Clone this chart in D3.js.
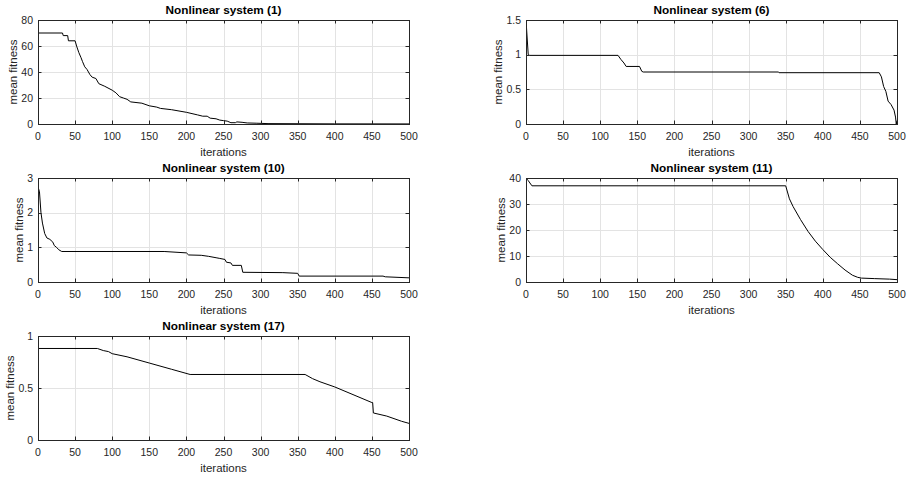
<!DOCTYPE html>
<html>
<head>
<meta charset="utf-8">
<script src="https://cdnjs.cloudflare.com/ajax/libs/d3/7.8.5/d3.min.js"></script>
<style>
  body { margin: 0; background: #fff; }
  svg { display: block; font-family: "Liberation Sans", Arial, sans-serif; }
</style>
</head>
<body>
<svg id="fig" width="908" height="477"></svg>
<script>
// iteration / mean-fitness pairs
const sys1 = [[0,70],[33,70],[34,68],[40,68],[41,64],[50,64],[52,60],[55,55],[58,51],[60,48],[63,44],[66,42],[70,38],[73,36],[78,35],[82,31],[90,29],[100,26],[105,24],[110,21],[115,20],[120,19],[125,17],[140,16],[150,14],[160,13],[165,12],[180,11],[200,9],[215,7],[222,6],[228,6],[232,4.5],[240,4],[245,3],[250,2.6],[255,2.2],[260,1],[266,1],[268,1.6],[275,1.3],[282,0.8],[295,0.6],[310,0.3],[400,0.1],[500,0.05]];
const sys6 = [[0,1.5],[3,1.0],[5,0.99],[124,0.99],[128,0.93],[132,0.88],[135,0.83],[153,0.83],[156,0.76],[158,0.75],[340,0.75],[341,0.74],[476,0.74],[479,0.68],[482,0.54],[485,0.47],[488,0.33],[492,0.28],[496,0.2],[498,0.1],[499,0.0],[500,0.05]];
const sys10 = [[0,2.75],[2,2.6],[4,2.0],[6,1.7],[9,1.4],[12,1.27],[16,1.23],[20,1.15],[22,1.05],[25,1.0],[28,0.93],[32,0.88],[170,0.88],[200,0.84],[203,0.78],[220,0.77],[230,0.74],[240,0.7],[245,0.68],[252,0.65],[254,0.57],[260,0.55],[262,0.48],[274,0.48],[276,0.28],[330,0.27],[350,0.25],[352,0.17],[465,0.17],[468,0.15],[500,0.12]];
const sys11 = [[0,40],[3,39],[8,37],[350,37],[352,35],[355,32],[360,29],[370,24],[380,19.5],[390,15.7],[400,12.5],[410,9.5],[420,7],[430,4.6],[440,2.6],[447,1.8],[452,1.5],[470,1.3],[490,1.1],[500,0.9]];
const sys17 = [[0,0.88],[80,0.88],[88,0.86],[95,0.85],[100,0.83],[120,0.8],[150,0.74],[180,0.68],[205,0.63],[360,0.63],[370,0.59],[380,0.56],[400,0.51],[450,0.36],[451,0.36],[452,0.26],[470,0.23],[490,0.18],[500,0.16]];

const titles = ["Nonlinear system (1)", "Nonlinear system (6)", "Nonlinear system (10)", "Nonlinear system (11)", "Nonlinear system (17)"];
const xTicks = [0,50,100,150,200,250,300,350,400,450,500];
const yTicks1 = [0,20,40,60,80];
const yTicks6 = [0,0.5,1,1.5];
const yTicks10 = [0,1,2,3];
const yTicks11 = [0,10,20,30,40];
const yTicks17 = [0,0.5,1];

const panels = [
  {data: sys1,  yt: yTicks1,  x0: 38,  top: 20},
  {data: sys6,  yt: yTicks6,  x0: 526, top: 20},
  {data: sys10, yt: yTicks10, x0: 38,  top: 178},
  {data: sys11, yt: yTicks11, x0: 526, top: 178},
  {data: sys17, yt: yTicks17, x0: 38,  top: 336}
];
const W = 371, H = 104, tk = 3.5;
const axisCol = "#262626";

const svg = d3.select("#fig");

panels.forEach((p, i) => {
  const x = d3.scaleLinear().domain([0, 500]).range([p.x0, p.x0 + W]);
  const y = d3.scaleLinear().domain([p.yt[0], p.yt[p.yt.length - 1]]).range([p.top + H, p.top]);
  const g = svg.append("g");

  // grid
  g.append("g").selectAll("line").data(xTicks).enter().append("line")
    .attr("x1", d => Math.round(x(d)) + 0.5).attr("x2", d => Math.round(x(d)) + 0.5)
    .attr("y1", p.top).attr("y2", p.top + H)
    .attr("stroke", "#e3e3e3");
  g.append("g").selectAll("line").data(p.yt).enter().append("line")
    .attr("y1", d => Math.round(y(d)) + 0.5).attr("y2", d => Math.round(y(d)) + 0.5)
    .attr("x1", p.x0).attr("x2", p.x0 + W)
    .attr("stroke", "#e3e3e3");

  // curve
  const clipId = "clip" + i;
  svg.append("clipPath").attr("id", clipId).append("rect")
    .attr("x", p.x0).attr("y", p.top - 1).attr("width", W).attr("height", H + 2);
  g.append("path").datum(p.data)
    .attr("clip-path", "url(#" + clipId + ")")
    .attr("fill", "none").attr("stroke", "#000").attr("stroke-width", 1)
    .attr("d", d3.line().x(d => x(d[0])).y(d => y(d[1])));

  // box
  g.append("rect")
    .attr("x", p.x0 + 0.5).attr("y", p.top + 0.5).attr("width", W).attr("height", H)
    .attr("fill", "none").attr("stroke", axisCol).attr("stroke-width", 1);

  // ticks on all sides, pointing inward
  xTicks.forEach(t => {
    const xx = Math.round(x(t)) + 0.5;
    g.append("line").attr("x1", xx).attr("x2", xx).attr("y1", p.top + H).attr("y2", p.top + H - tk).attr("stroke", axisCol);
    g.append("line").attr("x1", xx).attr("x2", xx).attr("y1", p.top).attr("y2", p.top + tk).attr("stroke", axisCol);
  });
  p.yt.forEach(t => {
    const yy = Math.round(y(t)) + 0.5;
    g.append("line").attr("y1", yy).attr("y2", yy).attr("x1", p.x0).attr("x2", p.x0 + tk).attr("stroke", axisCol);
    g.append("line").attr("y1", yy).attr("y2", yy).attr("x1", p.x0 + W).attr("x2", p.x0 + W - tk).attr("stroke", axisCol);
  });

  // tick labels
  g.append("g").selectAll("text").data(xTicks).enter().append("text")
    .attr("x", d => x(d)).attr("y", p.top + H + 15.5)
    .attr("text-anchor", "middle").attr("font-size", "10.5px").attr("fill", axisCol)
    .text(d => d);
  const yl = g.append("g").selectAll("text").data(p.yt).enter().append("text")
    .attr("x", p.x0 - 5).attr("y", d => y(d) + 3.8)
    .attr("text-anchor", "end").attr("font-size", "10.5px").attr("fill", axisCol)
    .text(d => d);
  let maxW = 0;
  yl.each(function () { maxW = Math.max(maxW, this.getComputedTextLength()); });

  // axis labels
  g.append("text")
    .attr("x", p.x0 + W / 2).attr("y", p.top + H + 31.5)
    .attr("text-anchor", "middle").attr("font-size", "11.5px").attr("fill", axisCol)
    .text("iterations");
  const lx = p.x0 - maxW - 9.5;
  g.append("text")
    .attr("transform", "translate(" + lx + "," + (p.top + H / 2) + ") rotate(-90)")
    .attr("text-anchor", "middle").attr("font-size", "11.5px").attr("fill", axisCol)
    .text("mean fitness");

  // title
  g.append("text")
    .attr("x", p.x0 + W / 2).attr("y", p.top - 6)
    .attr("text-anchor", "middle").attr("font-size", "11.8px").attr("font-weight", "bold").attr("fill", "#000")
    .text(titles[i]);
});
</script>
</body>
</html>
